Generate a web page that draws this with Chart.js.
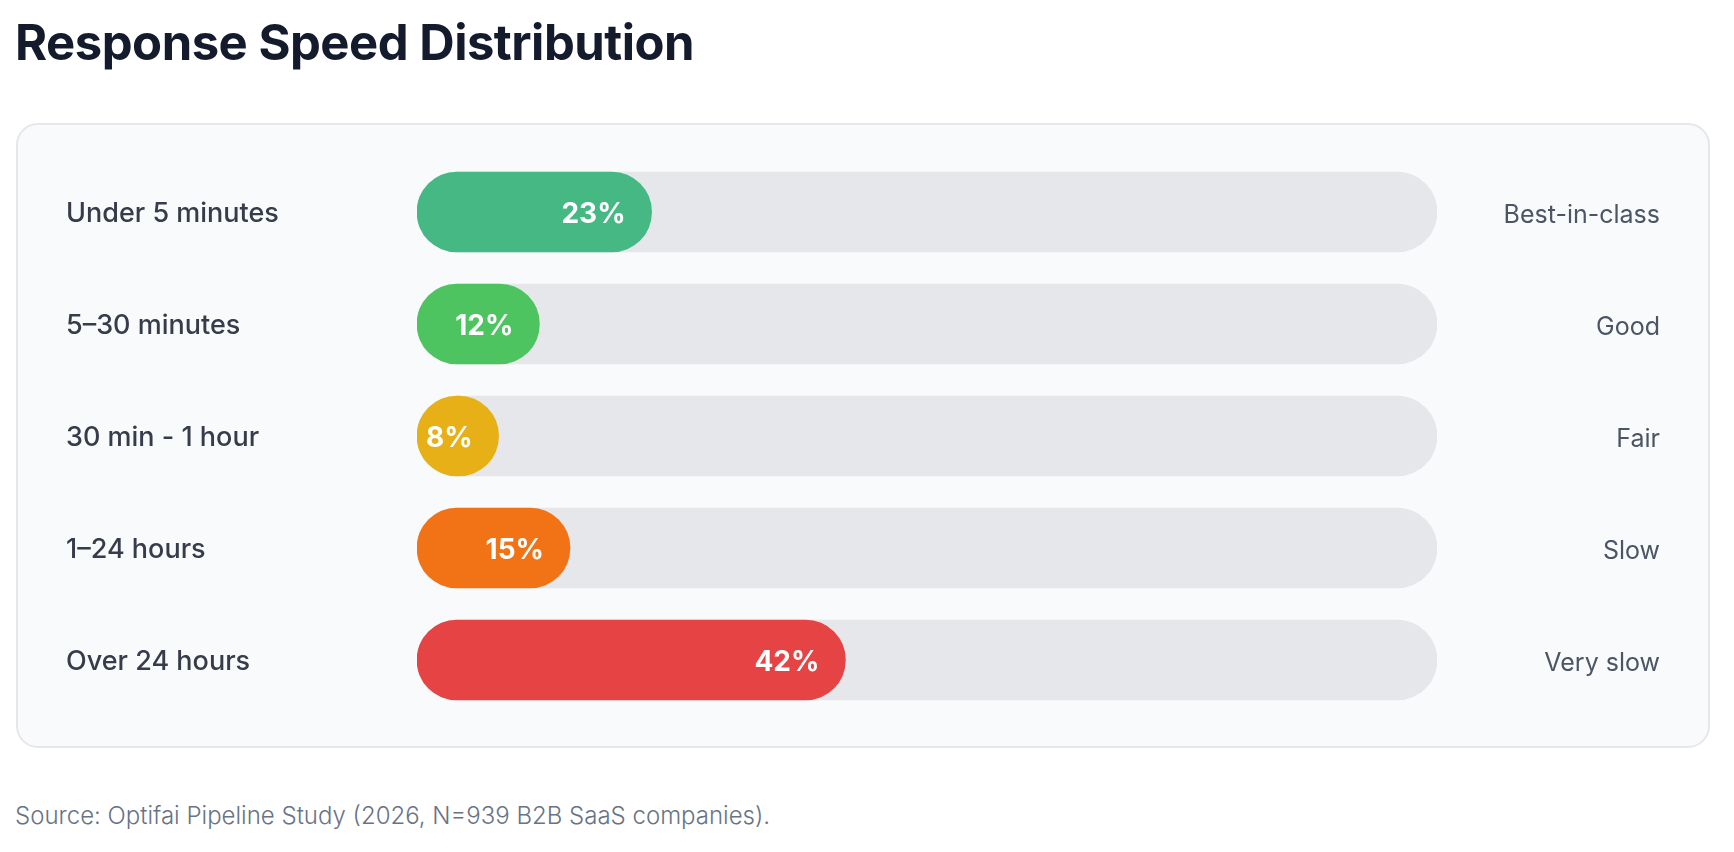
<!DOCTYPE html>
<html>
<head>
<meta charset="utf-8">
<title>Response Speed Distribution</title>
<script src="https://cdn.jsdelivr.net/npm/chart.js@4.4.1/dist/chart.umd.min.js"></script>
<style>
    html, body {
        margin: 0;
        padding: 0;
        background: #ffffff;
        width: 1734px;
        height: 852px;
        overflow: hidden;
        font-family: Inter, "Noto Sans", sans-serif;
    }
    .title {
        position: absolute;
        left: 15px;
        top: 18px;
        margin: 0;
        font-size: 49px;
        line-height: 1;
        font-weight: 700;
        letter-spacing: -0.5px;
        color: #141b2d;
    }
    .card {
        position: absolute;
        left: 16px;
        top: 123px;
        width: 1694px;
        height: 625px;
        box-sizing: border-box;
        border: 2px solid #e5e7eb;
        border-radius: 22px;
        background: #f9fafb;
    }
    .chart-wrap {
        position: absolute;
        left: 0;
        top: 123px;
        width: 1734px;
        height: 625px;
    }
    .source {
        position: absolute;
        left: 15px;
        top: 804px;
        margin: 0;
        font-size: 24px;
        line-height: 1;
        font-weight: 300;
        color: #687385;
    }
</style>
</head>
<body>
<h1 class="title">Response Speed Distribution</h1>
<div class="card"></div>
<div class="chart-wrap">
    <canvas id="speedChart" width="1734" height="625"></canvas>
</div>
<p class="source">Source: Optifai Pipeline Study (2026, N=939 B2B SaaS companies).</p>

<script>
// Chart data
const categories = ['Under 5 minutes', '5–30 minutes', '30 min - 1 hour', '1–24 hours', 'Over 24 hours'];
const shares = [23, 12, 8, 15, 42];
const ratings = ['Best-in-class', 'Good', 'Fair', 'Slow', 'Very slow'];
const barColors = ['#45b883', '#4dc45f', '#e7b017', '#f27315', '#e64444'];
const trackMax = 100;

// Draw the percentage inside the end of each coloured bar
const valueLabels = {
    id: 'valueLabels',
    afterDatasetsDraw(chart) {
        const ctx = chart.ctx;
        const meta = chart.getDatasetMeta(0);
        ctx.save();
        ctx.font = '700 28px Inter, sans-serif';
        ctx.fillStyle = '#ffffff';
        ctx.textAlign = 'right';
        ctx.textBaseline = 'middle';
        meta.data.forEach((bar, i) => {
            ctx.fillText(shares[i] + '%', bar.x - 26, bar.y + 3);
        });
        ctx.restore();
    }
};

function initChart() {
    const ctx = document.getElementById('speedChart').getContext('2d');

    new Chart(ctx, {
        type: 'bar',
        data: {
            labels: categories,
            datasets: [
                {
                    label: 'Share of companies',
                    data: shares,
                    backgroundColor: barColors,
                    barThickness: 80,
                    borderRadius: 40,
                    borderSkipped: false,
                    grouped: false,
                    order: 1
                },
                {
                    label: 'Track',
                    data: categories.map(() => trackMax),
                    backgroundColor: '#e5e7eb',
                    barThickness: 80,
                    borderRadius: 40,
                    borderSkipped: false,
                    grouped: false,
                    order: 2
                }
            ]
        },
        options: {
            indexAxis: 'y',
            responsive: false,
            animation: false,
            events: [],
            layout: {
                padding: { left: 66, right: 74, top: 33, bottom: 32 }
            },
            plugins: {
                legend: { display: false },
                tooltip: { enabled: false }
            },
            scales: {
                x: {
                    type: 'linear',
                    min: 0,
                    max: trackMax,
                    display: false
                },
                y: {
                    type: 'category',
                    position: 'left',
                    grid: { display: false },
                    border: { display: false },
                    ticks: {
                        crossAlign: 'far',
                        labelOffset: 2,
                        color: '#363c4a',
                        font: { family: 'Inter', size: 27, weight: 500 }
                    },
                    afterFit(scale) {
                        scale.width = 351;
                    }
                },
                y2: {
                    type: 'category',
                    position: 'right',
                    labels: ratings,
                    offset: true,
                    grid: { display: false },
                    border: { display: false },
                    ticks: {
                        crossAlign: 'far',
                        labelOffset: 3,
                        color: '#4b5563',
                        font: { family: 'Inter', size: 25, weight: 400 }
                    },
                    afterFit(scale) {
                        scale.width = 223;
                    }
                }
            }
        },
        plugins: [valueLabels]
    });
}

initChart();
</script>
</body>
</html>
